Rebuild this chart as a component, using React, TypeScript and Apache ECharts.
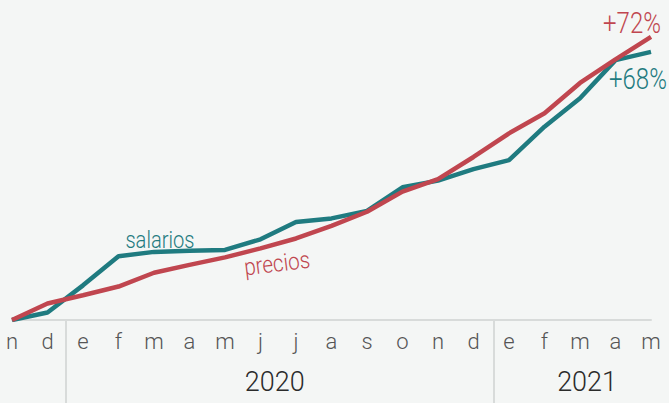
import React, { useEffect, useRef } from 'react';
import * as echarts from 'echarts';

const months = ['n', 'd', 'e', 'f', 'm', 'a', 'm', 'j', 'j', 'a', 's', 'o', 'n', 'd', 'e', 'f', 'm', 'a', 'm'];
const salarios = [0, 1.9, 8.8, 16.2, 17.3, 17.6, 17.8, 20.5, 24.9, 25.8, 27.7, 33.7, 35.4, 38.3, 40.6, 49.1, 56.3, 66.0, 68.1];
const precios = [0, 4.2, 6.3, 8.5, 12.0, 14.0, 15.9, 18.2, 20.7, 23.9, 27.5, 32.6, 35.8, 41.4, 47.4, 52.5, 60.2, 66.2, 71.9];
const yearLabels = ['2020', '2021'];
const yearCenters = [7.4, 16.2];
const yearBreaks = [1.5, 13.57];
const seriesNames = ['salarios', 'precios'];
const endLabels = ['+68%', '+72%'];

const FONT = "Roboto, 'Noto Sans', sans-serif";
const TEAL = '#1f7b80';
const RED = '#c0464f';
const BG = '#f4f6f5';
const CONDENSE = 0.8;

export default function App() {
  const ref = useRef<HTMLDivElement>(null);
  useEffect(() => {
    if (!ref.current) return;
    const chart = echarts.init(ref.current, undefined, { renderer: 'svg' });
    chart.setOption({
      animation: false,
      backgroundColor: BG,
      grid: { left: 12, right: 18, top: 5, bottom: 83 },
      xAxis: [
        {
          type: 'category',
          data: months,
          boundaryGap: false,
          axisLine: { lineStyle: { color: '#d8dbda', width: 2 } },
          axisTick: { show: false },
          axisLabel: { interval: 0, color: '#555', fontSize: 22, fontWeight: 300, fontFamily: FONT, margin: 10 },
        },
        {
          type: 'value',
          min: 0,
          max: months.length - 1,
          position: 'bottom',
          axisLine: { show: false },
          splitLine: { show: false },
          axisTick: { show: true, customValues: yearBreaks, length: 83, lineStyle: { color: '#d8dbda', width: 2 } },
          axisLabel: {
            customValues: yearCenters,
            formatter: (v: number) => {
              const i = yearCenters.findIndex((c) => Math.abs(c - v) < 1e-6);
              return i >= 0 ? yearLabels[i] : '';
            },
            fontSize: 27,
            fontWeight: 300,
            color: '#2b2b2b',
            fontFamily: FONT,
            margin: 48,
          },
        },
      ],
      yAxis: { type: 'value', min: 0, max: 80, show: false },
      series: [
        {
          name: seriesNames[0],
          type: 'line',
          data: salarios,
          showSymbol: false,
          symbol: 'none',
          lineStyle: { color: TEAL, width: 4.5 },
        },
        {
          name: seriesNames[1],
          type: 'line',
          data: precios,
          showSymbol: false,
          symbol: 'none',
          lineStyle: { color: RED, width: 4.5 },
        },
      ],
      graphic: [
        { type: 'text', x: 160, y: 239, scaleX: 0.84, style: { text: seriesNames[0], fill: TEAL, font: `300 24px ${FONT}`, textAlign: 'center', textVerticalAlign: 'middle' } },
        { type: 'text', x: 277, y: 263, rotation: 0.12, scaleX: 0.86, style: { text: seriesNames[1], fill: RED, font: `300 24px ${FONT}`, textAlign: 'center', textVerticalAlign: 'middle' } },
        { type: 'text', x: 632, y: 23, scaleX: CONDENSE, style: { text: endLabels[1], fill: RED, font: `300 30px ${FONT}`, textAlign: 'center', textVerticalAlign: 'middle' } },
        { type: 'text', x: 609, y: 79, scaleX: CONDENSE, style: { text: endLabels[0], fill: TEAL, font: `300 30px ${FONT}`, textAlign: 'left', textVerticalAlign: 'middle' } },
      ],
    });
    return () => chart.dispose();
  }, []);
  return <div ref={ref} style={{ position: 'fixed', left: 0, top: 0, width: 669, height: 403, background: BG }} />;
}
